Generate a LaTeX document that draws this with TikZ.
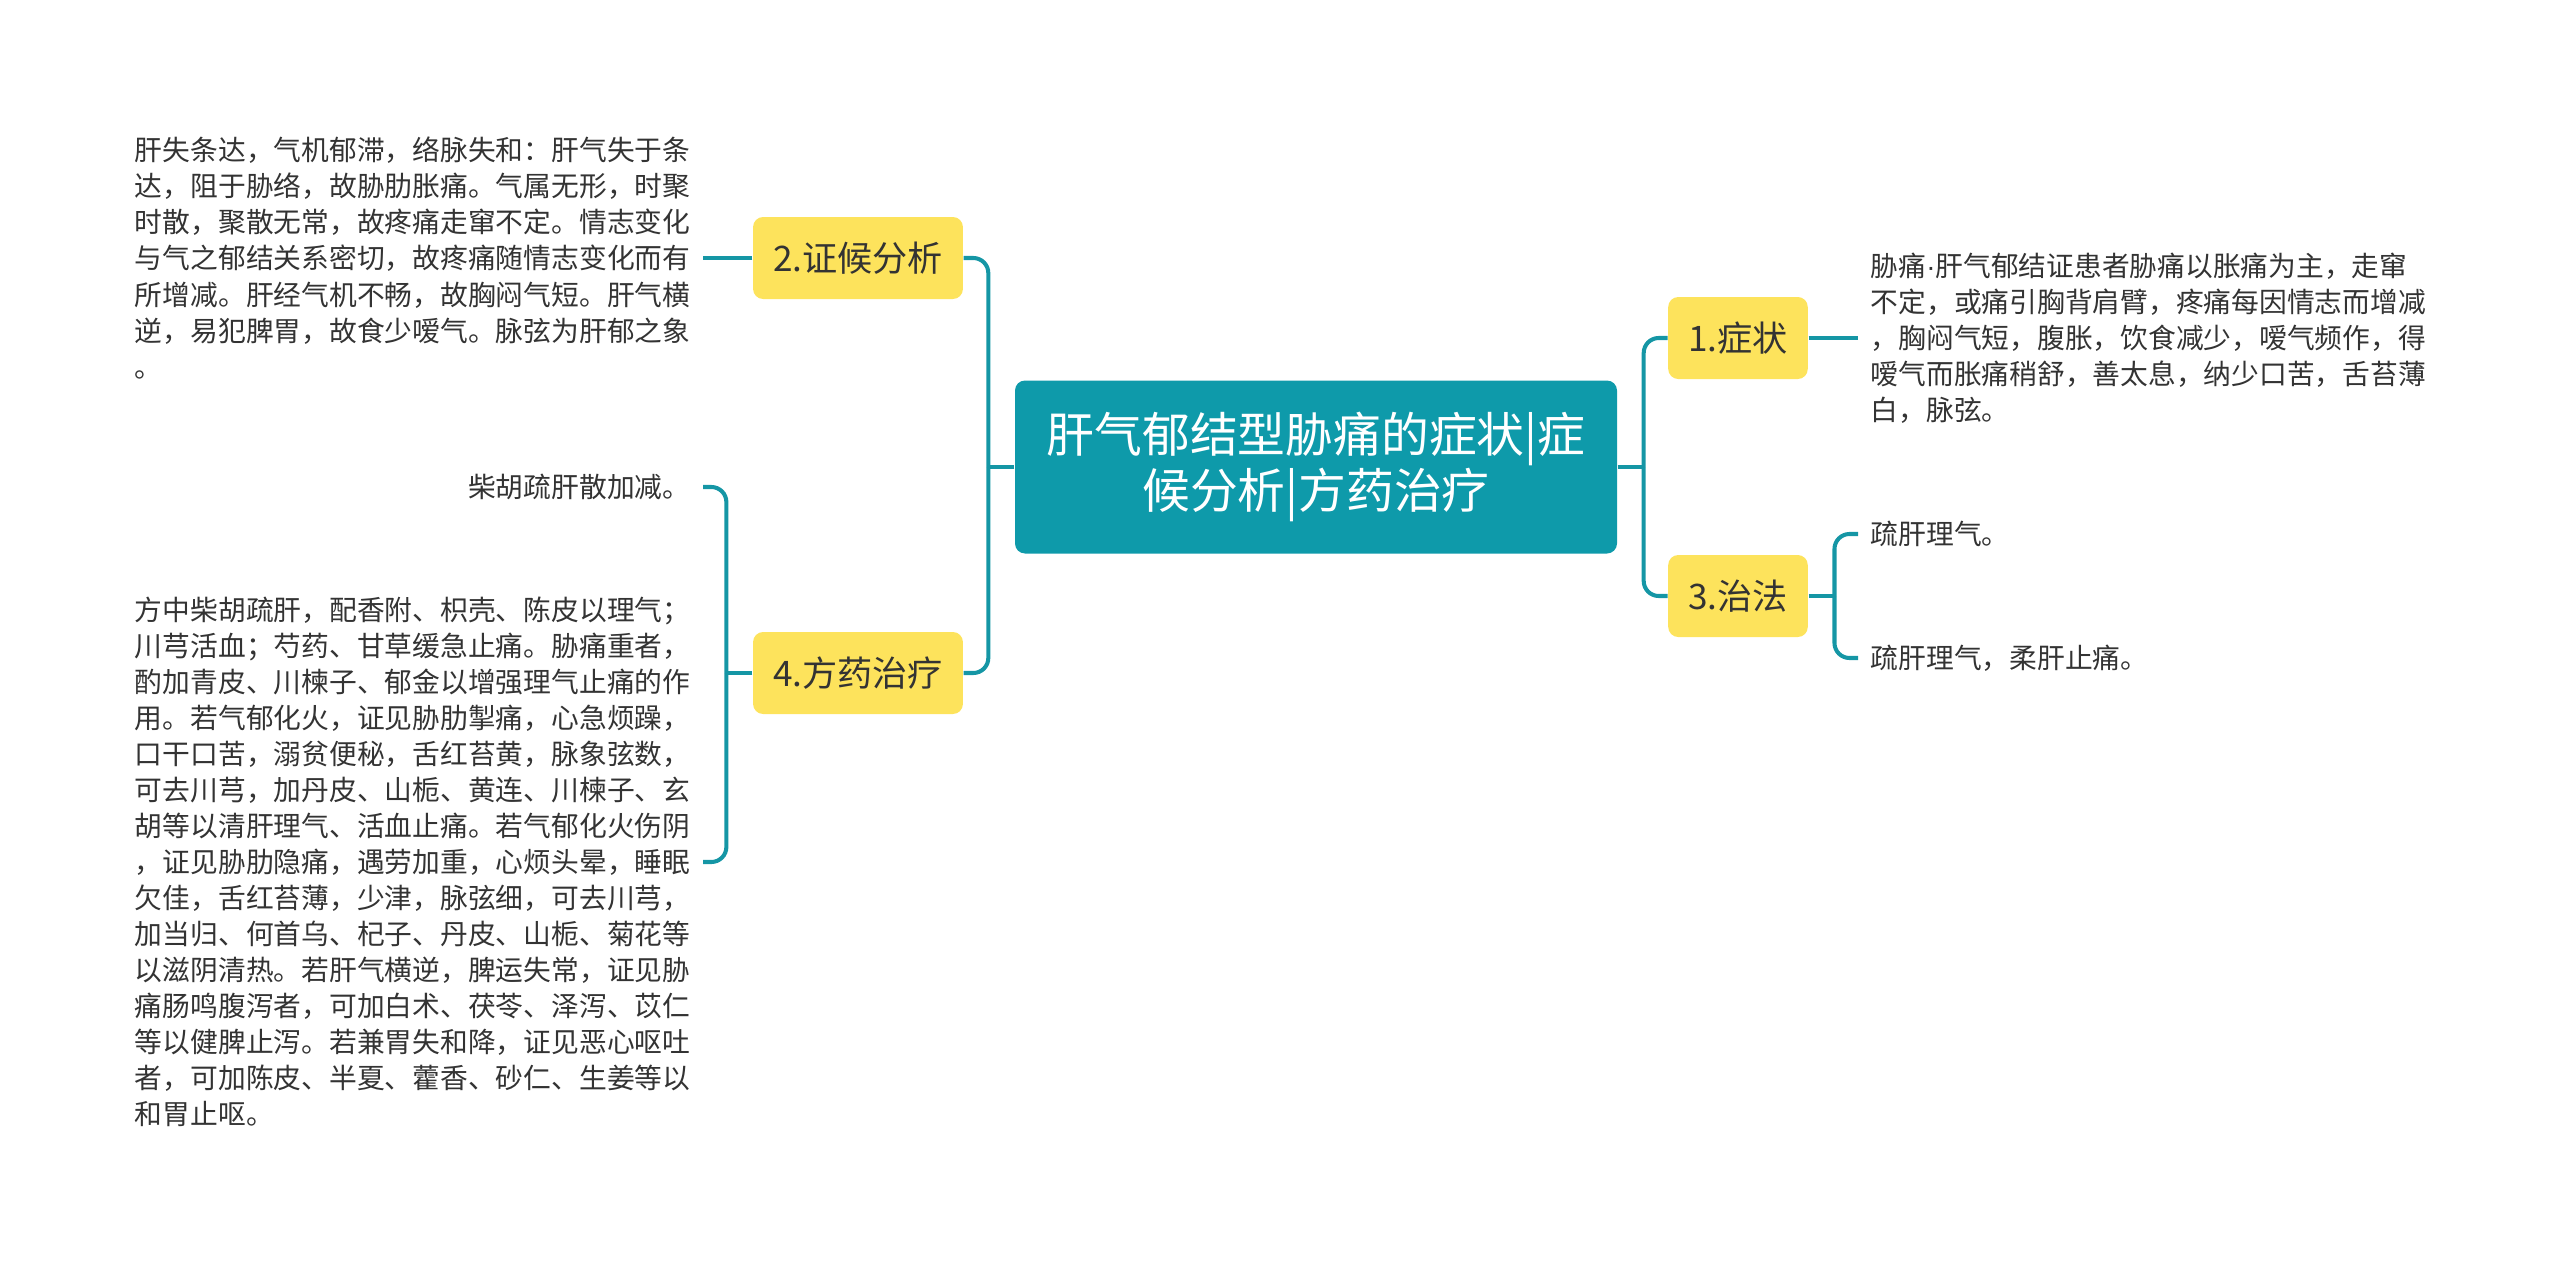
\documentclass[tikz,border=0pt]{standalone}
\usepackage{fontspec}
\usepackage{tikz}
\usetikzlibrary{positioning}
\newfontfamily\cjkfont{Noto Sans CJK SC}
\newfontfamily\dotfont{Liberation Sans}
\definecolor{mapteal}{HTML}{0E9AAA}
\definecolor{maplink}{HTML}{1596A5}
\definecolor{mapyellow}{HTML}{FDE35C}
\definecolor{leafgray}{HTML}{333333}
\newcommand{\linew}{1.15pt}
\newcommand{\forkd}{26}

\begin{document}
\begin{tikzpicture}[x=0.1mm,y=-0.1mm]
            \useasboundingbox (0,0) rectangle (2560,1263);
            \begin{scope}
                %\draw[help lines,step=100] (0,0) grid (2560,1263);
                \tikzset{RootStyle/.style = {fill=mapteal, rounded corners=1mm, text=white, align=center,
                                             minimum width=60.2mm, minimum height=17.3mm, inner sep=0pt,
                                             font=\cjkfont\fontsize{13.6pt}{15.9pt}\selectfont}}
                \tikzset{TopicStyle/.style = {fill=mapyellow, rounded corners=1mm, text=leafgray,
                                              minimum height=8.2mm, inner xsep=2mm, inner ysep=0pt,
                                              font=\cjkfont\fontsize{10pt}{12pt}\selectfont}}
                \tikzset{LeafStyle/.style = {text=leafgray, align=left, inner xsep=1.2mm, inner ysep=0pt,
                                             font=\cjkfont\fontsize{7.9pt}{10.25pt}\selectfont}}
                \tikzset{LinkStyle/.style = {draw=maplink, line width=\linew, rounded corners=1.5mm}}
                \node[RootStyle] (root) at (1316,467) {肝气郁结型胁痛的症状|症\\候分析|方药治疗};
                \node[TopicStyle] (s1) at (1738,338) {1.症状};
                \node[TopicStyle] (s2) at (858,258) {2.证候分析};
                \node[TopicStyle] (s3) at (1738,596) {3.治法};
                \node[TopicStyle] (s4) at (858,673) {4.方药治疗};
                \node[LeafStyle, anchor=west] (sign) at (1858,338) {胁痛{\dotfont·}肝气郁结证患者胁痛以胀痛为主，走窜\\
                    不定，或痛引胸背肩臂，疼痛每因情志而增减\\
                    ，胸闷气短，腹胀，饮食减少，嗳气频作，得\\
                    嗳气而胀痛稍舒，善太息，纳少口苦，舌苔薄\\
                    白，脉弦。};
                \node[LeafStyle, anchor=east] (why) at (703,258) {肝失条达，气机郁滞，络脉失和：肝气失于条\\
                    达，阻于胁络，故胁肋胀痛。气属无形，时聚\\
                    时散，聚散无常，故疼痛走窜不定。情志变化\\
                    与气之郁结关系密切，故疼痛随情志变化而有\\
                    所增减。肝经气机不畅，故胸闷气短。肝气横\\
                    逆，易犯脾胃，故食少嗳气。脉弦为肝郁之象\\
                    。};
                \node[LeafStyle, anchor=west] (rule) at (1858,534) {疏肝理气。};
                \node[LeafStyle, anchor=west] (rulenote) at (1858,658) {疏肝理气，柔肝止痛。};
                \node[LeafStyle, anchor=east] (recipe) at (703,487) {柴胡疏肝散加减。};
                \node[LeafStyle, anchor=east] (recipenote) at (703,862) {方中柴胡疏肝，配香附、枳壳、陈皮以理气；\\
                    川芎活血；芍药、甘草缓急止痛。胁痛重者，\\
                    酌加青皮、川楝子、郁金以增强理气止痛的作\\
                    用。若气郁化火，证见胁肋掣痛，心急烦躁，\\
                    口干口苦，溺贫便秘，舌红苔黄，脉象弦数，\\
                    可去川芎，加丹皮、山栀、黄连、川楝子、玄\\
                    胡等以清肝理气、活血止痛。若气郁化火伤阴\\
                    ，证见胁肋隐痛，遇劳加重，心烦头晕，睡眠\\
                    欠佳，舌红苔薄，少津，脉弦细，可去川芎，\\
                    加当归、何首乌、杞子、丹皮、山栀、菊花等\\
                    以滋阴清热。若肝气横逆，脾运失常，证见胁\\
                    痛肠鸣腹泻者，可加白术、茯苓、泽泻、苡仁\\
                    等以健脾止泻。若兼胃失和降，证见恶心呕吐\\
                    者，可加陈皮、半夏、藿香、砂仁、生姜等以\\
                    和胃止呕。};
                \draw[LinkStyle] (root.west) -- ++(-\forkd,0) coordinate (ltrunk);
                \draw[LinkStyle] (root.east) -- ++(\forkd,0) coordinate (rtrunk);
                \foreach \t in {s2,s4} {
                    \draw[LinkStyle] (ltrunk) |- (\t.east);
                }
                \foreach \t in {s1,s3} {
                    \draw[LinkStyle] (rtrunk) |- (\t.west);
                }
                \draw[LinkStyle] (s2.west) -- (why.east);
                \draw[LinkStyle] (s1.east) -- (sign.west);
                \draw[LinkStyle] (s4.west) -- ++(-\forkd,0) coordinate (f4);
                \foreach \t in {recipe,recipenote} {
                    \draw[LinkStyle] (f4) |- (\t.east);
                }
                \draw[LinkStyle] (s3.east) -- ++(\forkd,0) coordinate (f3);
                \foreach \t in {rule,rulenote} {
                    \draw[LinkStyle] (f3) |- (\t.west);
                }
            \end{scope}
\end{tikzpicture}
\end{document}
